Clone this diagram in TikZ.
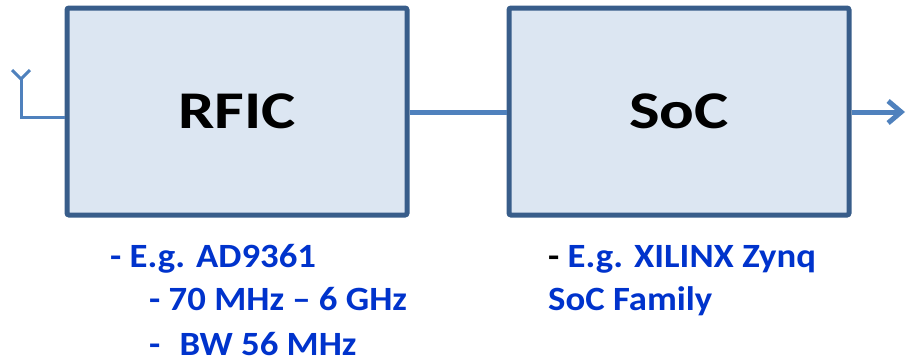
\documentclass[tikz,border=0pt]{standalone}
\usepackage{fontspec}
\setmainfont{Carlito}[BoldFont={Carlito Bold}]
\usetikzlibrary{arrows.meta}
\definecolor{boxfill}{HTML}{DCE6F2}
\definecolor{boxline}{HTML}{385D8A}
\definecolor{wire}{HTML}{4F81BD}
\definecolor{txtblue}{HTML}{0033CC}
\newcommand\wideM[1]{\scalebox{1.22}[1]{#1}}
\newcommand\wideN[1]{\scalebox{1.08}[1]{#1}}
\tikzset{
  block/.style={draw=boxline, fill=boxfill, line width=5pt, rounded corners=2pt,
    minimum width=340pt, minimum height=207pt, inner sep=0pt,
    font=\fontsize{53}{60}\selectfont\bfseries},
  wireline/.style={draw=wire, line width=5pt},
  antline/.style={draw=wire, line width=3pt},
  note/.style={anchor=base west, inner sep=0pt, text=txtblue,
    font=\fontsize{34}{40}\selectfont\bfseries},
}
\begin{document}
\begin{tikzpicture}[x=1pt,y=1pt]
\useasboundingbox (0,0) rectangle (908,-362);
\node[block] (rfic) at (237,-111.5) {\wideM{RFIC}};
\node[block] (soc) at (679,-111.5) {\wideM{SoC}};
% antenna
\coordinate (antfoot) at (21,-117);
\coordinate (antneck) at (21,-79);
\coordinate (antl) at (12,-70);
\coordinate (antr) at (30,-70);
\draw[antline] (rfic.west |- antfoot) -- (antfoot) -- (antneck);
\draw[antline, line join=miter] (antl) -- (antneck) -- (antr);
% connectors
\draw[wireline] (rfic.east |- 0,-112) -- (soc.west |- 0,-112);
\coordinate (out) at (905,-112);
\draw[wireline, -{Straight Barb[length=13pt,width=22pt]}] (soc.east |- out) -- (out);
% notes
\node[note] (n1) at (110,-267) {\wideN{- E.g. AD9361}};
\node[note] (n2) at (149,-310) {\wideN{- 70 MHz – 6 GHz}};
\node[note] (n3) at (149,-355) {\wideN{-\hspace{10pt} BW 56 MHz}};
\node[note] (s1) at (548,-267) {\wideN{\textcolor{black}{-} E.g. XILINX Zynq}};
\node[note] (s2) at (548,-310) {\wideN{SoC Family}};
\end{tikzpicture}
\end{document}
